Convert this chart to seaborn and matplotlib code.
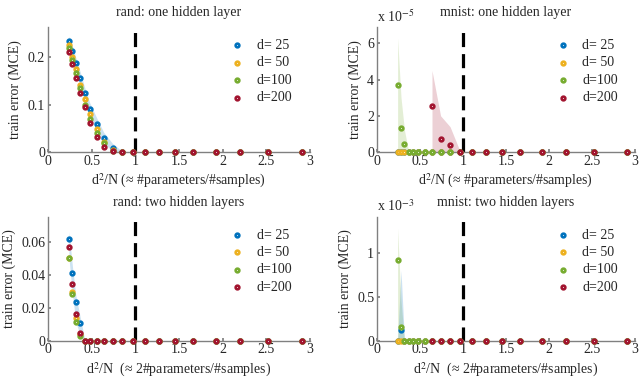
import numpy as np
import pandas as pd
import matplotlib
matplotlib.use("Agg")
import matplotlib.pyplot as plt
from matplotlib.ticker import FuncFormatter
import seaborn as sns

# d^2/N positions shared by all panels
ratio = [0.24, 0.28, 0.32, 0.37, 0.42, 0.48, 0.56, 0.64, 0.74, 0.85,
         0.97, 1.11, 1.27, 1.45, 1.66, 1.92, 2.2, 2.52, 2.91]
ratio_red_mnist = [0.64, 0.74, 0.85, 0.97, 1.11, 1.27, 1.45, 1.66, 1.92, 2.2, 2.52, 2.91]

labels = ["d= 25", "d= 50", "d=100", "d=200"]
colors = ["#0072BD", "#EDB120", "#77AC30", "#A2142F"]

# rand: one hidden layer
rand1_d25 = [0.234, 0.213, 0.187, 0.156, 0.124, 0.091, 0.059, 0.029, 0.009, 0, 0, 0, 0, 0, 0, 0, 0, 0, 0]
rand1_d50 = [0.225, 0.201, 0.174, 0.140, 0.112, 0.079, 0.048, 0.022, 0.005, 0, 0, 0, 0, 0, 0, 0, 0, 0, 0]
rand1_d100 = [0.218, 0.194, 0.166, 0.134, 0.100, 0.069, 0.039, 0.018, 0.003, 0, 0, 0, 0, 0, 0, 0, 0, 0, 0]
rand1_d200 = [0.210, 0.185, 0.156, 0.124, 0.094, 0.062, 0.032, 0.011, 0.002, 0, 0, 0, 0, 0, 0, 0, 0, 0, 0]
rand1_band_x = [0.24, 0.28, 0.32, 0.37, 0.42, 0.48, 0.56, 0.64, 0.74, 0.85]
rand1_band_hi = [0.244, 0.223, 0.198, 0.168, 0.136, 0.103, 0.071, 0.041, 0.018, 0.002]
rand1_band_lo = [0.222, 0.200, 0.172, 0.142, 0.110, 0.078, 0.046, 0.018, 0.002, 0.0]

# mnist: one hidden layer (x 1e-5)
mnist1_d25 = [0, 0, 0, 0, 0, 0, 0, 0, 0, 0, 0, 0, 0, 0, 0, 0, 0, 0, 0]
mnist1_d50 = [0, 0, 0, 0, 0, 0, 0, 0, 0, 0, 0, 0, 0, 0, 0, 0, 0, 0, 0]
mnist1_d100 = [3.68, 1.35, 0.46, 0, 0, 0, 0, 0, 0, 0, 0, 0, 0, 0, 0, 0, 0, 0, 0]
mnist1_d200 = [2.55, 0.74, 0.37, 0, 0, 0, 0, 0, 0, 0, 0, 0]
mnist1_green_band_x = [0.24, 0.28, 0.32, 0.37]
mnist1_green_band_hi = [6.3, 3.0, 1.2, 0.0]
mnist1_red_band_x = [0.64, 0.74, 0.85, 0.97]
mnist1_red_band_hi = [4.5, 2.0, 1.4, 0.0]

# rand: two hidden layers
rand2_d25 = [0.0616, 0.0408, 0.0233, 0.0109, 0, 0, 0, 0, 0, 0, 0, 0, 0, 0, 0, 0, 0, 0, 0]
rand2_d50 = [0.0500, 0.0295, 0.0135, 0.0040, 0, 0, 0, 0, 0, 0, 0, 0, 0, 0, 0, 0, 0, 0, 0]
rand2_d100 = [0.0503, 0.0285, 0.0115, 0.0030, 0, 0, 0, 0, 0, 0, 0, 0, 0, 0, 0, 0, 0, 0, 0]
rand2_d200 = [0.0564, 0.0342, 0.0160, 0.0045, 0, 0, 0, 0, 0, 0, 0, 0, 0, 0, 0, 0, 0, 0, 0]
rand2_band_x = [0.24, 0.28, 0.32, 0.37, 0.42]
rand2_band_hi = [0.066, 0.045, 0.027, 0.014, 0.001]
rand2_band_lo = [0.050, 0.028, 0.011, 0.003, 0.0]

# mnist: two hidden layers (x 1e-3)
mnist2_d25 = [0, 0.12, 0, 0, 0, 0, 0, 0, 0, 0, 0, 0, 0, 0, 0, 0, 0, 0, 0]
mnist2_d50 = [0, 0, 0, 0, 0, 0, 0, 0, 0, 0, 0, 0, 0, 0, 0, 0, 0, 0, 0]
mnist2_d100 = [0.92, 0.15, 0, 0, 0, 0, 0, 0, 0, 0, 0, 0, 0, 0, 0, 0, 0, 0, 0]
mnist2_d200 = [0, 0, 0, 0, 0, 0, 0, 0, 0, 0, 0, 0]
mnist2_green_band_x = [0.24, 0.28, 0.32]
mnist2_green_band_hi = [1.28, 0.45, 0.0]
mnist2_blue_band_x = [0.24, 0.28, 0.32]
mnist2_blue_band_hi = [0.0, 0.8, 0.0]

sns.set_theme(style="white")
plt.rcParams["font.family"] = ["Liberation Serif", "DejaVu Serif"]
plt.rcParams["mathtext.fontset"] = "stix"
plt.rcParams["font.size"] = 10

fig = plt.figure(figsize=(6.4, 3.81), dpi=100)

panels = [
    dict(rect=[0.075, 0.601, 0.409, 0.328], title="rand: one hidden layer",
         series=[(ratio, rand1_d25), (ratio, rand1_d50), (ratio, rand1_d100), (ratio, rand1_d200)],
         bands=[(rand1_band_x, rand1_band_lo, rand1_band_hi, colors[0])],
         ylim=0.263, yticks=[0, 0.1, 0.2], exp=None,
         xlabel="d$^2$/N (≈ #parameters/#samples)"),
    dict(rect=[0.589, 0.601, 0.403, 0.328], title="mnist: one hidden layer",
         series=[(ratio, mnist1_d25), (ratio, mnist1_d50), (ratio, mnist1_d100), (ratio_red_mnist, mnist1_d200)],
         bands=[(mnist1_green_band_x, [0, 0, 0, 0], mnist1_green_band_hi, colors[2]),
                (mnist1_red_band_x, [0, 0, 0, 0], mnist1_red_band_hi, colors[3])],
         ylim=6.9, yticks=[0, 2, 4, 6], exp="x 10$^{-5}$",
         xlabel="d$^2$/N (≈ #parameters/#samples)"),
    dict(rect=[0.075, 0.106, 0.409, 0.325], title="rand: two hidden layers",
         series=[(ratio, rand2_d25), (ratio, rand2_d50), (ratio, rand2_d100), (ratio, rand2_d200)],
         bands=[(rand2_band_x, rand2_band_lo, rand2_band_hi, colors[0])],
         ylim=0.075, yticks=[0, 0.02, 0.04, 0.06], exp=None,
         xlabel="d$^2$/N  (≈ 2#parameters/#samples)"),
    dict(rect=[0.589, 0.106, 0.403, 0.325], title="mnist: two hidden layers",
         series=[(ratio, mnist2_d25), (ratio, mnist2_d50), (ratio, mnist2_d100), (ratio_red_mnist, mnist2_d200)],
         bands=[(mnist2_green_band_x, [0, 0, 0], mnist2_green_band_hi, colors[2]),
                (mnist2_blue_band_x, [0, 0, 0], mnist2_blue_band_hi, colors[0])],
         ylim=1.41, yticks=[0, 0.5, 1], exp="x 10$^{-3}$",
         xlabel="d$^2$/N  (≈ 2#parameters/#samples)"),
]

for p in panels:
    ax = fig.add_axes(p["rect"])
    for bx, blo, bhi, bc in p["bands"]:
        ax.fill_between(bx, blo, bhi, color=bc, alpha=0.2, linewidth=0)
    for (xs, ys), lab, col in zip(p["series"], labels, colors):
        df = pd.DataFrame({"x": xs, "y": ys})
        sns.scatterplot(data=df, x="x", y="y", ax=ax, marker="o", s=7,
                        facecolor="white", edgecolor=col, linewidth=1.9,
                        label=lab, zorder=3, clip_on=False)
    ax.axvline(1, ymin=0.0, ymax=0.97, color="black", linewidth=2.3,
               linestyle=(0, (4.4, 2.2)), zorder=2)
    ax.set_xlim(0, 3)
    ax.set_ylim(0, p["ylim"])
    ax.set_xticks([0, 0.5, 1, 1.5, 2, 2.5, 3])
    ax.set_yticks(p["yticks"])
    ax.xaxis.set_major_formatter(FuncFormatter(lambda v, _: f"{v:g}"))
    ax.yaxis.set_major_formatter(FuncFormatter(lambda v, _: f"{v:g}"))
    ax.tick_params(axis="both", labelsize=10, direction="in", length=2,
                   color="#808080", pad=2, left=True, bottom=True)
    for side in ["top", "right"]:
        ax.spines[side].set_visible(False)
    for side in ["left", "bottom"]:
        ax.spines[side].set_color("#808080")
        ax.spines[side].set_linewidth(1.0)
    ax.set_title(p["title"], fontsize=10, pad=8)
    ax.set_xlabel(p["xlabel"], fontsize=10, labelpad=3)
    ax.set_ylabel("train error (MCE)", fontsize=10, labelpad=4)
    if p["exp"]:
        ax.text(0.0, 1.02, p["exp"], transform=ax.transAxes, fontsize=10,
                ha="left", va="bottom")
    ax.legend(loc="upper right", bbox_to_anchor=(0.955, 0.95), frameon=False,
              fontsize=10, labelspacing=0.32, handletextpad=0.9,
              borderaxespad=0.0, handlelength=1.0)
    ax.set_facecolor("white")

fig.savefig("out.png", dpi=100, facecolor="white")
